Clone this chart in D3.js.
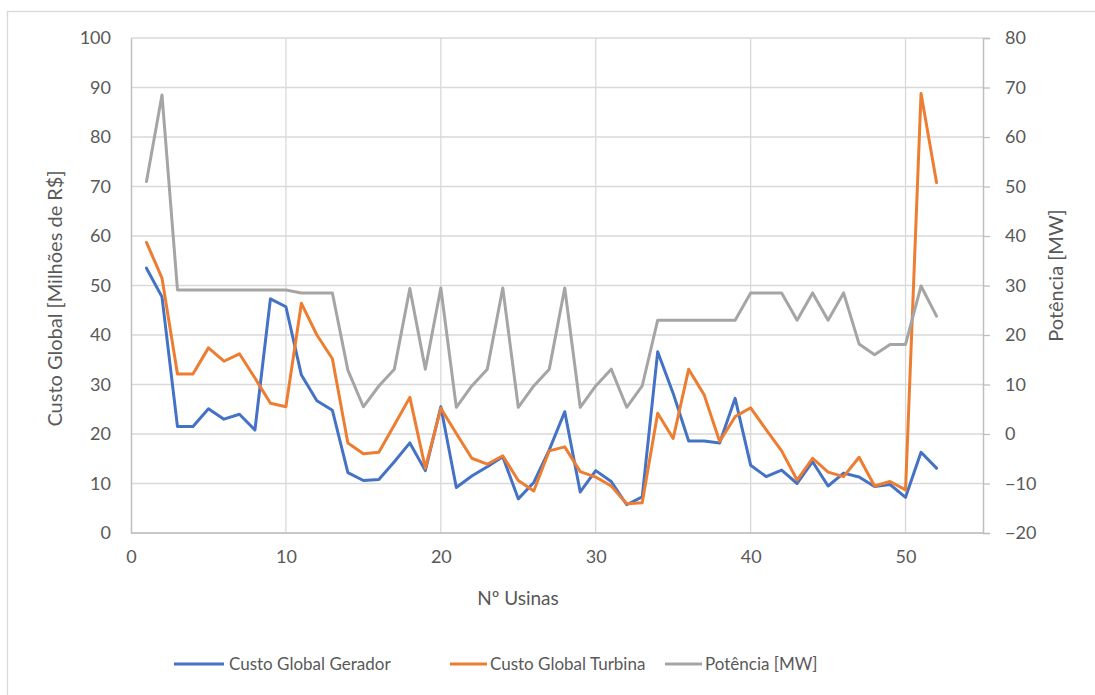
<!DOCTYPE html>
<html><head><meta charset="utf-8">
<script src="https://cdn.jsdelivr.net/npm/d3@7"></script>
<style>
body{margin:0;background:#fff;}
text{font-family:Lato,"Liberation Sans",sans-serif;fill:#595959;}
</style></head>
<body>
<svg id="c" width="1095" height="695"></svg>
<script>
const usinas = d3.range(1, 53);
const gerador = [53.5,47.7,21.5,21.5,25.1,23.0,24.0,20.8,47.3,45.7,31.9,26.7,24.8,12.2,10.6,10.8,14.4,18.2,12.6,25.5,9.2,11.5,13.4,15.4,6.9,10.2,16.8,24.5,8.3,12.6,10.4,5.7,7.3,36.6,28.2,18.6,18.6,18.2,27.2,13.7,11.4,12.7,10.0,14.4,9.5,12.1,11.3,9.4,9.8,7.2,16.3,13.1];
const turbina = [58.7,51.5,32.1,32.1,37.4,34.7,36.2,31.3,26.2,25.5,46.4,40.0,35.2,18.2,16.0,16.3,21.8,27.4,13.1,25.2,20.1,15.1,13.9,15.6,10.6,8.5,16.6,17.4,12.4,11.3,9.5,5.9,6.1,24.2,19.1,33.1,27.9,18.5,23.5,25.3,20.9,16.6,10.7,15.1,12.3,11.4,15.3,9.5,10.4,8.7,88.8,70.8];
const potencia = [51.0,68.5,29.1,29.1,29.1,29.1,29.1,29.1,29.1,29.1,28.5,28.5,28.5,12.9,5.5,9.7,13.1,29.4,13.1,29.5,5.4,9.7,13.1,29.5,5.4,9.7,13.1,29.5,5.4,9.7,13.1,5.4,9.7,23.0,23.0,23.0,23.0,23.0,23.0,28.5,28.5,28.5,23.0,28.5,23.0,28.5,18.2,16.0,18.1,18.1,29.9,23.8];
const xTicks = [0,10,20,30,40,50];
const yLeftTicks = [0,10,20,30,40,50,60,70,80,90,100];
const yRightTicks = [-20,-10,0,10,20,30,40,50,60,70,80];
const seriesNames = ["Custo Global Gerador","Custo Global Turbina","Potência [MW]"];
const colors = ["#4472C4","#ED7D31","#A5A5A5"];

const svg = d3.select("#c");
svg.append("rect").attr("x",7.5).attr("y",11.5).attr("width",1100).attr("height",700)
  .attr("fill","#fff").attr("stroke","#d9d9d9").attr("stroke-width",1.3);

const L=131, R=983, T=38, B=533;
const x = d3.scaleLinear().domain([0,55]).range([L,R]);
const yL = d3.scaleLinear().domain([0,100]).range([B,T]);
const yR = d3.scaleLinear().domain([-20,80]).range([B,T]);

const g = svg.append("g");
g.selectAll(".hg").data(yLeftTicks).join("line")
  .attr("x1",L).attr("x2",R).attr("y1",d=>yL(d)).attr("y2",d=>yL(d))
  .attr("stroke","#d9d9d9").attr("stroke-width",1.3);
g.selectAll(".vg").data(xTicks.filter(d=>d>0)).join("line")
  .attr("y1",T).attr("y2",B).attr("x1",d=>x(d)).attr("x2",d=>x(d))
  .attr("stroke","#d9d9d9").attr("stroke-width",1.3);

const axL = svg.append("g").attr("transform",`translate(${L},0)`)
  .call(d3.axisLeft(yL).tickValues(yLeftTicks).tickSize(0).tickPadding(20));
const axR = svg.append("g").attr("transform",`translate(${R},0)`)
  .call(d3.axisRight(yR).tickValues(yRightTicks).tickSize(7).tickPadding(15));
const axB = svg.append("g").attr("transform",`translate(0,${B})`)
  .call(d3.axisBottom(x).tickValues(xTicks).tickSize(0).tickPadding(17));
[axL,axR,axB].forEach(a=>{
  a.select(".domain").attr("stroke","#bfbfbf").attr("stroke-width",1.5);
  a.selectAll(".tick line").attr("stroke","#bfbfbf").attr("stroke-width",1.3);
  a.selectAll("text").attr("font-size",18).attr("fill","#595959").style("font-family","Lato, sans-serif");
});
axB.select(".domain").remove();
svg.append("line").attr("x1",L).attr("x2",R).attr("y1",B).attr("y2",B).attr("stroke","#bfbfbf").attr("stroke-width",1.5);

const data = [gerador, turbina, potencia];
const scales = [yL, yL, yR];
data.forEach((arr,i)=>{
  const line = d3.line().x((d,j)=>x(usinas[j])).y(d=>scales[i](d));
  svg.append("path").datum(arr).attr("d",line).attr("fill","none")
    .attr("stroke",colors[i]).attr("stroke-width",3).attr("stroke-linejoin","round").attr("stroke-linecap","round");
});

svg.append("text").attr("transform",`translate(62,${(T+B)/2+13}) rotate(-90)`)
  .attr("text-anchor","middle").attr("font-size",20).text("Custo Global [Milhões de R$]");
svg.append("text").attr("transform",`translate(1063,${(T+B)/2-10}) rotate(-90)`)
  .attr("text-anchor","middle").attr("font-size",20).text("Potência [MW]");
svg.append("text").attr("x",518).attr("y",605).attr("text-anchor","middle")
  .attr("font-size",19).text("Nº Usinas");

const legX = [174, 450, 665];
const lg = svg.append("g");
seriesNames.forEach((n,i)=>{
  lg.append("line").attr("x1",legX[i]).attr("x2",legX[i]+50 - (i>0?13:0)).attr("y1",664).attr("y2",664)
    .attr("stroke",colors[i]).attr("stroke-width",3);
  lg.append("text").attr("x",legX[i]+(i>0?40:55)).attr("y",670).attr("font-size",17).text(n);
});
</script>
</body></html>
